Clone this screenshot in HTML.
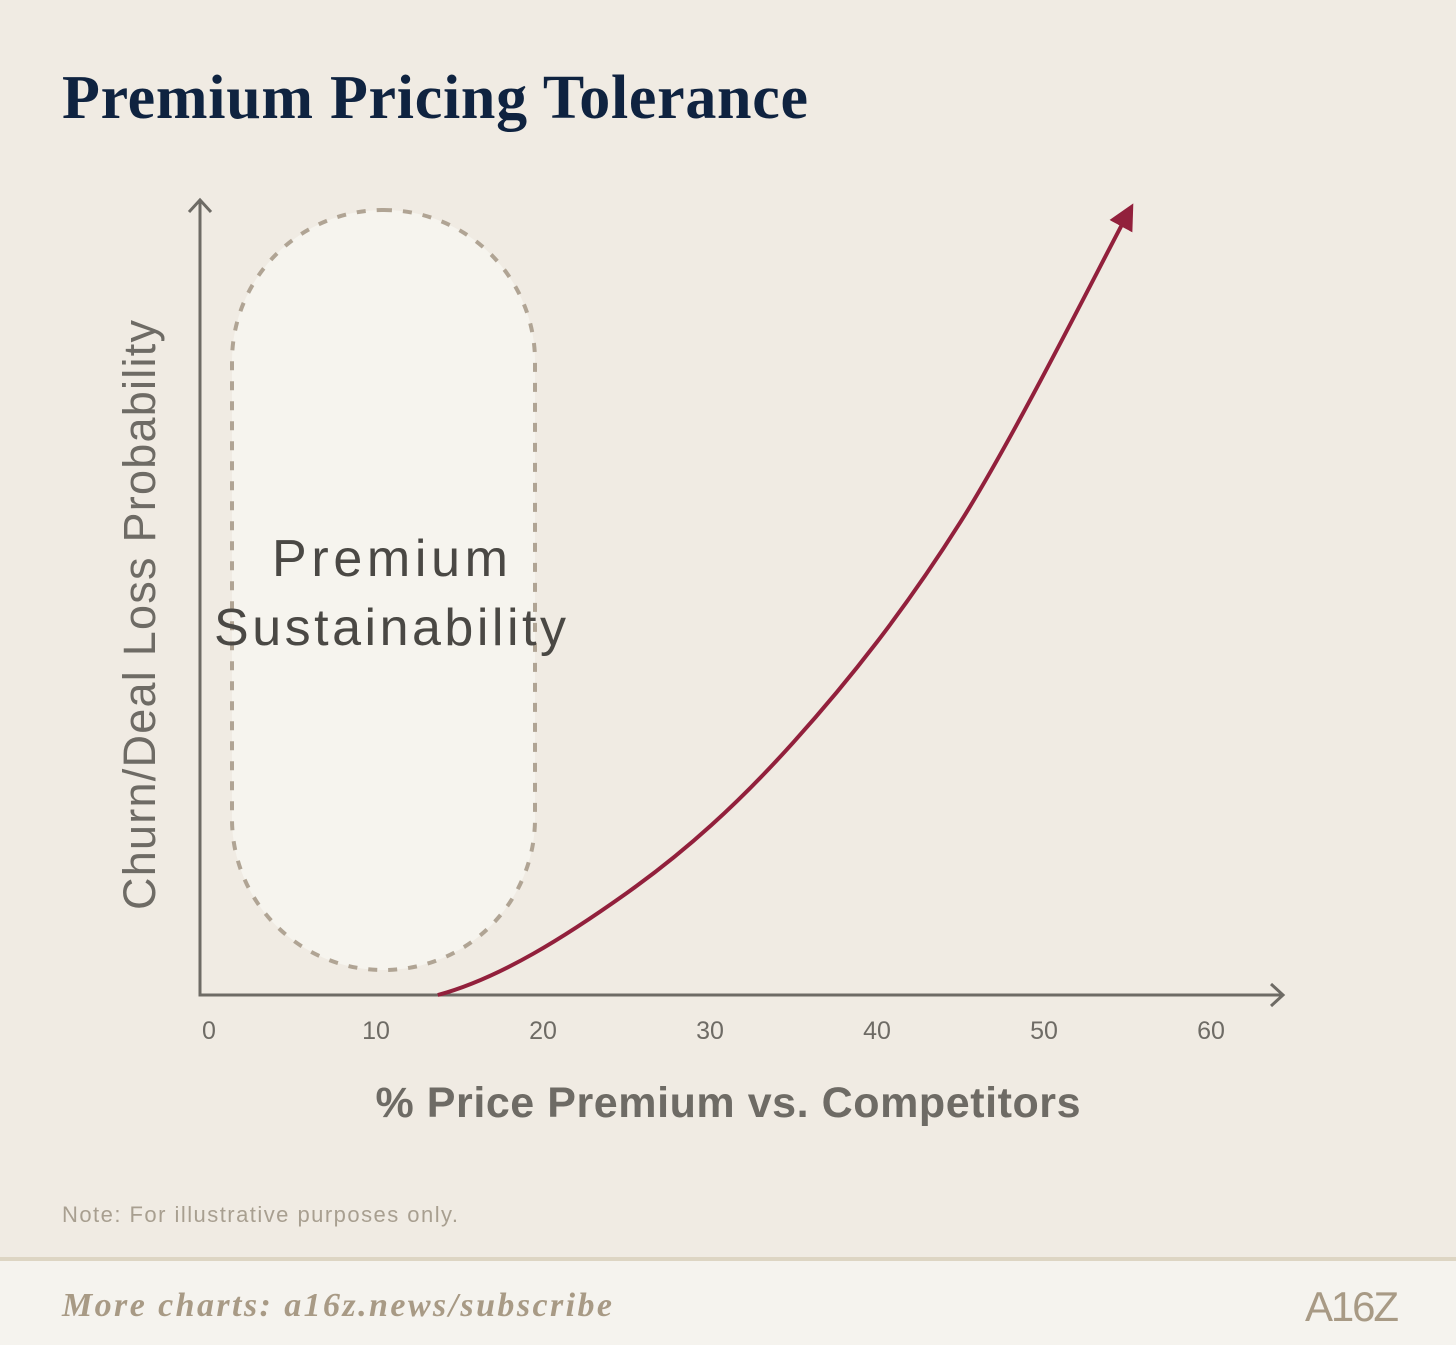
<!DOCTYPE html>
<html><head><meta charset="utf-8"><style>
html,body{margin:0;padding:0;background:#f0ebe3;}
svg{display:block;}
</style></head><body>
<svg width="1456" height="1345" viewBox="0 0 1456 1345" xmlns="http://www.w3.org/2000/svg">
<defs>
<marker id="ah" viewBox="0 0 10 10" refX="8" refY="5" markerWidth="6.5" markerHeight="6.5" orient="auto" markerUnits="strokeWidth">
<path d="M0,0 L10,5 L0,10 z" fill="#92203c"/>
</marker>
</defs>
<rect width="1456" height="1345" fill="#f0ebe3"/>
<text x="62" y="118" font-family="'Liberation Serif',serif" font-weight="bold" font-size="62" fill="#0f2340" textLength="746">Premium Pricing Tolerance</text>

<rect x="232" y="210" width="303" height="760" rx="151" ry="151" fill="#f6f4ee" stroke="#b0a494" stroke-width="4" stroke-dasharray="9 11"/>
<text x="390" y="576" text-anchor="middle" font-family="'Liberation Sans',sans-serif" font-size="52" fill="#4a4844" textLength="236">Premium</text>
<text x="390" y="645" text-anchor="middle" font-family="'Liberation Sans',sans-serif" font-size="52" fill="#4a4844" textLength="352">Sustainability</text>

<g stroke="#6e6b65" stroke-width="3" fill="none">
<path d="M200,200 L200,995 L1283,995"/>
<path d="M189,212 L200,200 L211,212"/>
<path d="M1271,984 L1283,995 L1271,1006"/>
</g>
<g id="ticks" font-family="'Liberation Sans',sans-serif" font-size="25" fill="#6e6b65" text-anchor="middle"></g>
<path id="curve" fill="none" stroke="#92203c" stroke-width="4" marker-end="url(#ah)"/>

<text x="155" y="615" transform="rotate(-90 155 615)" text-anchor="middle" font-family="'Liberation Sans',sans-serif" font-size="45" fill="#6e6b65" textLength="590">Churn/Deal Loss Probability</text>
<text x="728" y="1117" text-anchor="middle" font-family="'Liberation Sans',sans-serif" font-weight="bold" font-size="43" fill="#6e6b65" textLength="705">% Price Premium vs. Competitors</text>
<text x="62" y="1222" font-family="'Liberation Sans',sans-serif" font-size="22" fill="#a89f90" textLength="396">Note: For illustrative purposes only.</text>

<rect x="0" y="1258" width="1456" height="87" fill="#f5f3ee"/>
<rect x="0" y="1257" width="1456" height="4" fill="#ddd5c3"/>
<text x="62" y="1316" font-family="'Liberation Serif',serif" font-style="italic" font-weight="bold" font-size="34" fill="#a89a85" textLength="550">More charts: a16z.news/subscribe</text>
<text x="1352" y="1321" text-anchor="middle" font-family="'Liberation Sans',sans-serif" font-size="42" fill="#a89a85" textLength="94">A16Z</text>
</svg>
<script>
const tickValues=[0,10,20,30,40,50,60];
const curveX=[13.7,25,35,45,55.2];
const curveY=[0,12.8,31.8,59.5,99];
function sx(v){return 209+16.7*v;}
function sy(v){return 995-7.95*v;}
const tg=document.getElementById('ticks');
tickValues.forEach(v=>{
  const t=document.createElementNS('http://www.w3.org/2000/svg','text');
  t.setAttribute('x',sx(v));t.setAttribute('y',1039);t.textContent=v;
  
  
  tg.appendChild(t);
});
const pts=curveX.map((x,i)=>[sx(x),sy(curveY[i])]);
let d='M'+pts[0][0]+','+pts[0][1];
for(let i=0;i<pts.length-1;i++){
  const p1=pts[i],p2=pts[i+1];
  const p0=pts[i-1]||[2*p1[0]-p2[0],p1[1]];
  const p3=pts[i+2]||p2;
  const c1=[p1[0]+(p2[0]-p0[0])/6,p1[1]+(p2[1]-p0[1])/6];
  const c2=[p2[0]-(p3[0]-p1[0])/6,p2[1]-(p3[1]-p1[1])/6];
  d+=' C'+c1+' '+c2+' '+p2;
}
document.getElementById('curve').setAttribute('d',d);
</script>
</body></html>
